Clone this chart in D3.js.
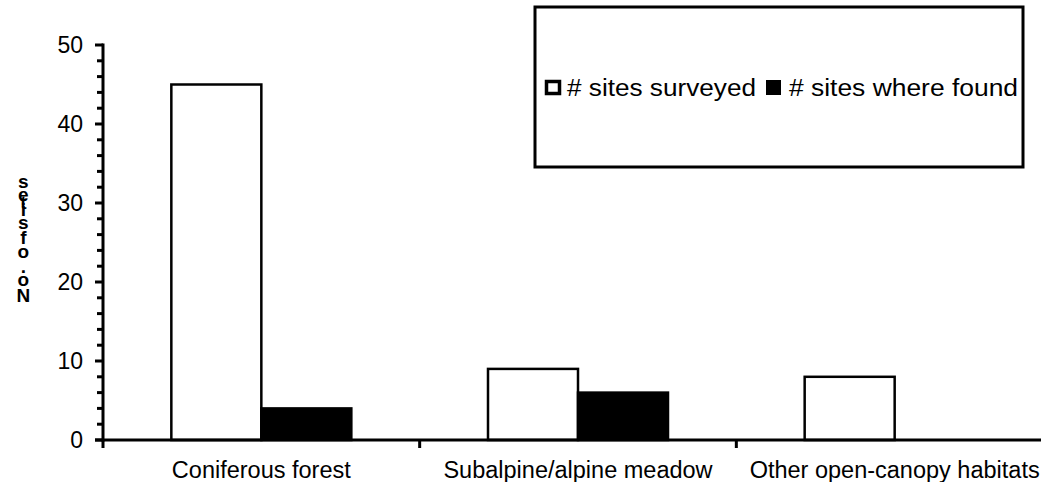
<!DOCTYPE html>
<html><head><meta charset="utf-8">
<script src="https://cdn.jsdelivr.net/npm/d3@7"></script>
<style>body{margin:0;background:#fff}svg{display:block;font-family:"Liberation Sans",Arial,sans-serif}</style>
</head><body><svg id="c" width="1041" height="482"></svg>
<script>
const categories = ["Coniferous forest", "Subalpine/alpine meadow", "Other open-canopy habitats"];
const surveyed = [45, 9, 8];
const found = [4, 6, 0];
const seriesNames = ["# sites surveyed", "# sites where found"];
const yTicks = [0, 10, 20, 30, 40, 50];
const yLabel = "No. of sites";

const svg = d3.select("#c");
const x0 = 103, x1 = 1053, yTop = 45, yBot = 440;
const x = d3.scaleBand().domain(categories).range([x0, x1]);
const y = d3.scaleLinear().domain([0, 50]).range([yBot, yTop]);
const barW = 90;

// bars
const g = svg.append("g");
categories.forEach((c, i) => {
  const cx = x(c) + x.bandwidth() / 2;
  g.append("rect").attr("x", cx - barW).attr("y", y(surveyed[i]))
    .attr("width", barW).attr("height", y(0) - y(surveyed[i]))
    .attr("fill", "#fff").attr("stroke", "#000").attr("stroke-width", 2.5);
  if (found[i] > 0) g.append("rect").attr("x", cx).attr("y", y(found[i]))
    .attr("width", barW).attr("height", y(0) - y(found[i]))
    .attr("fill", "#000").attr("stroke", "#000").attr("stroke-width", 2.5);
});

// y axis
const ya = svg.append("g").attr("transform", `translate(${x0},0)`);
ya.append("line").attr("y1", yTop - 1.5).attr("y2", yBot + 1.5).attr("stroke", "#000").attr("stroke-width", 3);
d3.range(0, 51, 2).forEach(v => {
  ya.append("line").attr("x1", v % 10 === 0 ? -8 : -6).attr("x2", 0)
    .attr("y1", y(v)).attr("y2", y(v)).attr("stroke", "#000").attr("stroke-width", 3);
});
yTicks.forEach(v => {
  ya.append("text").attr("x", -20).attr("y", y(v)).attr("dy", "0.36em")
    .attr("text-anchor", "end").attr("font-size", 23).text(v);
});

// x axis
const xa = svg.append("g").attr("transform", `translate(0,${yBot})`);
xa.append("line").attr("x1", x0 - 8).attr("x2", 1041).attr("stroke", "#000").attr("stroke-width", 3);
categories.forEach(c => {
  xa.append("line").attr("x1", x(c)).attr("x2", x(c)).attr("y1", 0).attr("y2", 8)
    .attr("stroke", "#000").attr("stroke-width", 3);
  xa.append("text").attr("x", x(c) + x.bandwidth() / 2).attr("y", 38)
    .attr("text-anchor", "middle").attr("font-size", 23.5).text(c);
});

// y label: one text, run bottom-to-top, each glyph turned upright (as in the reference)
const fs = 19;
const widths = {"N": .722, "o": .611, ".": .278, " ": .278, "f": .333, "s": .556, "i": .278, "t": .333, "e": .556};
const chars = yLabel.split("");
const offs = chars.map(ch => (0.722 - (widths[ch] || 0.5)) * fs / 2);
const dyList = offs.map((o, i) => (i === 0 ? o : o - offs[i - 1]).toFixed(2)).join(" ");
const dxList = chars.map((c, i) => i === 0 ? 0 : 2).join(" ");
svg.append("text")
  .attr("transform", "translate(16.5,302) rotate(-90)")
  .attr("rotate", "90")
  .attr("dx", dxList).attr("dy", dyList)
  .attr("font-size", fs).attr("font-weight", "bold")
  .text(yLabel);

// legend
const lg = svg.append("g");
lg.append("rect").attr("x", 535).attr("y", 7).attr("width", 488).attr("height", 160)
  .attr("fill", "#fff").attr("stroke", "#000").attr("stroke-width", 3);
lg.append("rect").attr("x", 546.5).attr("y", 81.5).attr("width", 13).attr("height", 12)
  .attr("fill", "#fff").attr("stroke", "#000").attr("stroke-width", 3.5);
lg.append("text").attr("x", 567).attr("y", 96).attr("font-size", 23)
  .attr("textLength", 189).attr("lengthAdjust", "spacingAndGlyphs").text(seriesNames[0]);
lg.append("rect").attr("x", 766).attr("y", 80).attr("width", 15).attr("height", 15).attr("fill", "#000");
lg.append("text").attr("x", 789).attr("y", 96).attr("font-size", 23)
  .attr("textLength", 229).attr("lengthAdjust", "spacingAndGlyphs").text(seriesNames[1]);
</script></body></html>
